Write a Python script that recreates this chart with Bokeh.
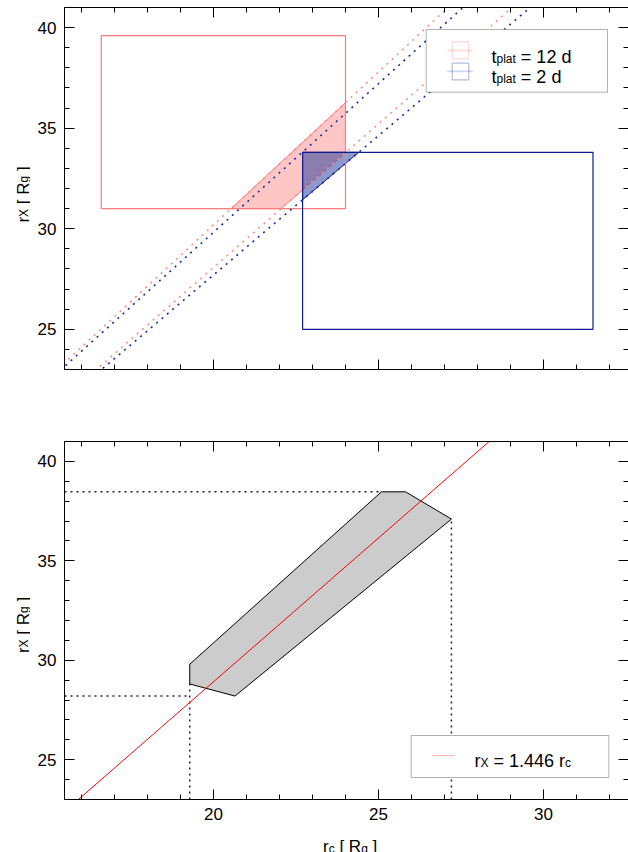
import math
from bokeh.plotting import figure
from bokeh.layouts import column, row
from bokeh.models import (Range1d, LinearAxis, Label, BoxAnnotation, PolyAnnotation,
                          SingleIntervalTicker, Div)
from bokeh.embed import file_html
from bokeh.resources import INLINE

# ---------------- data ----------------
# r_c / r_X boxes allowed by each plateau duration
box12_rc = [16.6, 24.0]
box12_rx = [31.0, 39.6]
box2_rc = [22.7, 31.5]
box2_rx = [25.0, 33.8]

# dotted limiting relations, each through two (r_c, r_X) points
lim12_hi_rc = [15.6, 27.11]
lim12_hi_rx = [23.5, 41.0]
lim12_lo_rc = [16.5, 29.05]
lim12_lo_rx = [23.07, 41.0]
lim2_hi_rc = [15.52, 27.56]
lim2_hi_rx = [23.2, 41.0]
lim2_lo_rc = [16.68, 29.6]
lim2_lo_rx = [23.1, 41.0]

# combined allowed region (lower panel)
region_rc = [19.28, 19.28, 20.65, 27.21, 25.82, 25.09]
region_rx = [29.8, 28.81, 28.2, 37.1, 38.47, 38.47]
fit_slope = 1.446

x_lo, x_hi = 15.485, 32.576
y_lo, y_hi = 23.0, 41.0

FONT = "Liberation Sans"
RED = "#ff7a7a"
BLUE = "#0c1c8c"
STRIP_W = 30

# Liberation Sans advance widths (per 1000 em) for the characters used in labels
ADV = {' ': 278, '[': 278, ']': 278, 'R': 722, 'X': 667, 'r': 333, 'g': 556, 'c': 500,
       't': 278, 'p': 556, 'l': 222, 'a': 556, '=': 584, '1': 556, '2': 556, 'd': 556,
       '.': 278, '4': 556, '6': 556}


def width(s, size):
    return sum(ADV[ch] for ch in s) * size / 1000.0


def line_through(rc, rx):
    k = (rx[1] - rx[0]) / (rc[1] - rc[0])
    return lambda x: rx[0] + k * (x - rc[0])


def clip(poly, xmin, xmax, ymin, ymax):
    def edge(pts, inside, cut):
        out = []
        for i in range(len(pts)):
            cur, prev = pts[i], pts[i - 1]
            if inside(cur):
                if not inside(prev):
                    out.append(cut(prev, cur))
                out.append(cur)
            elif inside(prev):
                out.append(cut(prev, cur))
        return out

    def at_x(x):
        return lambda p, q: (x, p[1] + (x - p[0]) / (q[0] - p[0]) * (q[1] - p[1]))

    def at_y(y):
        return lambda p, q: (p[0] + (y - p[1]) / (q[1] - p[1]) * (q[0] - p[0]), y)

    poly = edge(poly, lambda p: p[0] >= xmin, at_x(xmin))
    poly = edge(poly, lambda p: p[0] <= xmax, at_x(xmax))
    poly = edge(poly, lambda p: p[1] >= ymin, at_y(ymin))
    poly = edge(poly, lambda p: p[1] <= ymax, at_y(ymax))
    return [p[0] for p in poly], [p[1] for p in poly]


def band(hi, lo, box_rc, box_rx):
    a, b = 5.0, 45.0
    pts = [(a, hi(a)), (b, hi(b)), (b, lo(b)), (a, lo(a))]
    return clip(pts, box_rc[0], box_rc[1], box_rx[0], box_rx[1])


def style_axis(ax, labelled):
    ax.ticker = SingleIntervalTicker(interval=5, num_minor_ticks=5)
    ax.major_tick_in = 10
    ax.major_tick_out = 0
    ax.minor_tick_in = 5
    ax.minor_tick_out = 0
    ax.axis_line_color = "black"
    ax.major_tick_line_color = "black"
    ax.minor_tick_line_color = "black"
    ax.major_label_text_font = FONT
    ax.major_label_text_color = "black"
    if labelled:
        ax.major_label_text_font_size = "17px"
        ax.major_label_standoff = 8
    else:
        ax.major_label_text_font_size = "0px"
        ax.major_label_standoff = 0


def make_fig(height, top, bottom, show_x_labels):
    p = figure(width=628 - STRIP_W, height=height, x_range=Range1d(x_lo, x_hi),
               y_range=Range1d(y_lo, y_hi), toolbar_location=None, title=None,
               output_backend="svg", min_border_left=64 - STRIP_W, min_border_right=0,
               min_border_top=top, min_border_bottom=bottom,
               x_axis_location=None, y_axis_location=None)
    p.xgrid.visible = False
    p.ygrid.visible = False
    p.outline_line_color = None
    p.background_fill_color = "white"
    p.border_fill_color = None
    ax_below, ax_above = LinearAxis(), LinearAxis()
    ax_left, ax_right = LinearAxis(), LinearAxis()
    style_axis(ax_below, show_x_labels)
    style_axis(ax_above, False)
    style_axis(ax_left, True)
    style_axis(ax_right, False)
    ax_right.axis_line_color = None
    p.add_layout(ax_below, "below")
    p.add_layout(ax_above, "above")
    p.add_layout(ax_left, "left")
    p.add_layout(ax_right, "right")
    return p


def strip(w, h):
    """Blank canvas used to carry the rotated axis titles beside the data frames."""
    s = figure(width=w, height=h, toolbar_location=None, output_backend="svg",
               title=None, min_border=0, x_axis_location=None, y_axis_location=None,
               x_range=Range1d(0, 1), y_range=Range1d(0, 1))
    s.xgrid.visible = False
    s.ygrid.visible = False
    s.outline_line_color = None
    s.background_fill_color = None
    s.border_fill_color = None
    return s


def rich_text(p, pieces, sx, sy, vertical=False, color="black"):
    """Draw a run of (text, size, drop) pieces starting at screen point (sx, sy)."""
    pos = 0.0
    for txt, size, drop in pieces:
        lead = len(txt) - len(txt.lstrip(" "))
        pos += width(" " * lead, size)
        body = txt.strip(" ")
        if vertical:
            lab = Label(x=sx + drop, y=sy + pos, angle=math.pi / 2)
        else:
            lab = Label(x=sx + pos, y=sy - drop)
        lab.x_units = "screen"
        lab.y_units = "screen"
        lab.text = body
        lab.text_font = FONT
        lab.text_font_size = f"{size}px"
        lab.text_color = color
        lab.text_align = "left"
        lab.text_baseline = "alphabetic"
        lab.level = "overlay"
        p.add_layout(lab)
        pos += width(txt.lstrip(" "), size)
    return pos


def run_length(pieces):
    return sum(width(t, s) for t, s, _ in pieces)


YLABEL = [("r", 17, 0), ("X", 12, 0), (" [ R", 17, 0), ("g", 12, 0), (" ]", 17, 0)]
XLABEL = [("r", 17, 0), ("c", 12, 0), (" [ R", 17, 0), ("g", 12, 0), (" ]", 17, 0)]

# ---------------- top panel ----------------
top = make_fig(420, 7, 51, False)

hi12, lo12 = line_through(lim12_hi_rc, lim12_hi_rx), line_through(lim12_lo_rc, lim12_lo_rx)
hi2, lo2 = line_through(lim2_hi_rc, lim2_hi_rx), line_through(lim2_lo_rc, lim2_lo_rx)

bx, by = band(hi12, lo12, box12_rc, box12_rx)
top.patch(bx, by, fill_color="#ff7070", fill_alpha=0.4, line_color=RED, line_width=1)
bx, by = band(hi2, lo2, box2_rc, box2_rx)
top.patch(bx, by, fill_color="#1a3399", fill_alpha=0.5, line_color=BLUE, line_width=1)

top.quad(left=box12_rc[0], right=box12_rc[1], bottom=box12_rx[0], top=box12_rx[1],
         fill_color=None, line_color=RED, line_width=1.2)
top.quad(left=box2_rc[0], right=box2_rc[1], bottom=box2_rx[0], top=box2_rx[1],
         fill_color=None, line_color=BLUE, line_width=1.2)

xs_ext = [10.0, 40.0]
for f, col in ((hi12, "#ff8a8a"), (lo12, "#ff8a8a"), (hi2, "#1a2aa0"), (lo2, "#1a2aa0")):
    top.line(xs_ext, [f(x) for x in xs_ext], line_color=col, line_width=1.6,
             line_dash="2 5")

# legend
top.add_layout(BoxAnnotation(left=361.7, right=543, bottom=277.3, top=340,
                             left_units="screen", right_units="screen",
                             bottom_units="screen", top_units="screen",
                             fill_color="white", fill_alpha=1.0,
                             line_color="black", line_width=1, level="overlay"))
for yline, ysq, sq_col, ln_col, days in ((319, (310.7, 327.7), RED, "#ff9a9a", "12"),
                                         (298.3, (289.7, 306.3), BLUE, "#6f7dc4", "2")):
    top.add_layout(PolyAnnotation(xs=[382.7, 408.3], ys=[yline, yline],
                                  xs_units="screen", ys_units="screen",
                                  fill_alpha=0, line_color=ln_col, line_width=2,
                                  level="overlay"))
    top.add_layout(BoxAnnotation(left=387.7, right=404.3, bottom=ysq[0], top=ysq[1],
                                 left_units="screen", right_units="screen",
                                 bottom_units="screen", top_units="screen",
                                 fill_alpha=0, line_color=sq_col, line_width=1.2,
                                 level="overlay"))
    rich_text(top, [("t", 18, 0), ("plat", 12, 2), (f" = {days} d", 18, 0)],
              427, yline - 6)

# the strip's frame lines up with the panel frame (page y 7..369)
ylen = run_length(YLABEL)
ylab_top = strip(STRIP_W, 420)
rich_text(ylab_top, YLABEL, 23, (369 - 194) - ylen / 2, vertical=True)

# ---------------- bottom panel ----------------
bot = make_fig(410, 21, 31, True)

bot.patch(region_rc, region_rx, fill_color="#cccccc", line_color="black", line_width=1)

# dotted guides marking the extent of the region
rc_min, rc_max = min(region_rc), max(region_rc)
rx_min, rx_max = min(region_rx), max(region_rx)
y_at_rcmin = min(y for x, y in zip(region_rc, region_rx) if x == rc_min)
y_at_rcmax = max(y for x, y in zip(region_rc, region_rx) if x == rc_max)
x_at_rxmax = min(x for x, y in zip(region_rc, region_rx) if y == rx_max)
guides = [([x_lo, rc_min], [rx_min, rx_min]),
          ([x_lo, x_at_rxmax], [rx_max, rx_max]),
          ([rc_min, rc_min], [y_lo, y_at_rcmin]),
          ([rc_max, rc_max], [y_lo, y_at_rcmax])]
for gx, gy in guides:
    bot.line(gx, gy, line_color="#222222", line_width=1.5, line_dash="2 4")

fit_x = [10.0, 40.0]
bot.line(fit_x, [fit_slope * x for x in fit_x], line_color="#ff0000", line_width=1)

bot.add_layout(BoxAnnotation(left=346.7, right=544.3, bottom=22, top=64,
                             left_units="screen", right_units="screen",
                             bottom_units="screen", top_units="screen",
                             fill_color="white", fill_alpha=1.0,
                             line_color="black", line_width=1, level="overlay"))
bot.add_layout(PolyAnnotation(xs=[367.7, 390], ys=[44, 44], xs_units="screen",
                              ys_units="screen", fill_alpha=0, line_color="#ff0000",
                              line_width=1, level="overlay"))
rich_text(bot, [("r", 18, 0), ("X", 12, 2), (f" = {fit_slope} r", 18, 0), ("c", 12, 2)],
          410, 39)

# frame of this strip lines up with the lower panel frame (page y 441..799)
ylab_bot = strip(STRIP_W, 410)
rich_text(ylab_bot, YLABEL, 23, (799 - 624.5) - ylen / 2, vertical=True)

# x-axis title as a text block under the lower panel
sub = "font-size:12px;vertical-align:-1px;line-height:0"
xlab_html = (f'<div style="padding-left:318px;padding-top:2px;font-family:\'{FONT}\';'
             f'font-size:17px;line-height:20px;white-space:nowrap;color:black">'
             f'r<sub style="{sub}">c</sub> [ R<sub style="{sub}">g</sub> ]</div>')
xlab = Div(text=xlab_html, width=628, height=22)

layout = column(row(ylab_top, top, spacing=0), row(ylab_bot, bot, spacing=0), xlab,
                spacing=0)
open("out.html", "w").write(file_html(layout, INLINE))
